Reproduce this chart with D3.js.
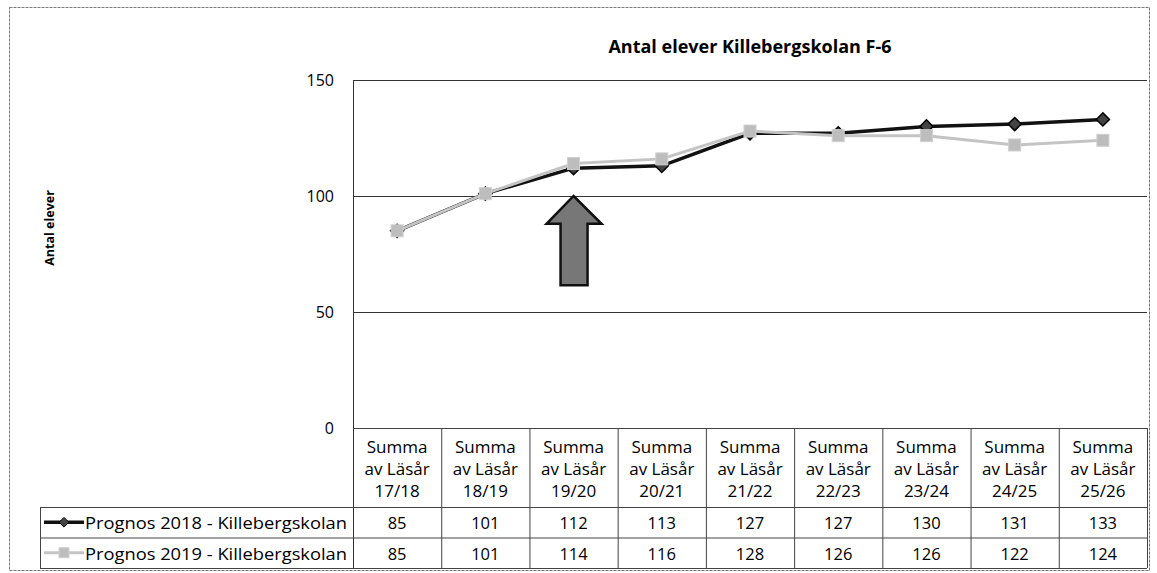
<!DOCTYPE html>
<html lang="sv">
<head>
<meta charset="UTF-8">
<title>Antal elever Killebergskolan F-6</title>
<script src="https://cdn.jsdelivr.net/npm/d3@7"></script>
<style>
  body { margin: 0; background: #fff; }
  svg { font-family: "Open Sans", Lato, sans-serif; }
</style>
</head>
<body>
<svg id="chart" width="1157" height="573"></svg>
<script>
  // data
  var years = ["17/18", "18/19", "19/20", "20/21", "21/22", "22/23", "23/24", "24/25", "25/26"];
  var prognos2018 = [85, 101, 112, 113, 127, 127, 130, 131, 133];
  var prognos2019 = [85, 101, 114, 116, 128, 126, 126, 122, 124];
  var seriesNames = ["Prognos 2018 - Killebergskolan", "Prognos 2019 - Killebergskolan"];
  var yTicks = [0, 50, 100, 150];

  var svg = d3.select("#chart");
  var plot = { left: 353, right: 1147, top: 80, bottom: 428 };
  var rowH = 30.5, headH = 79;

  var x = d3.scaleBand().domain(years).range([plot.left, plot.right]);
  var y = d3.scaleLinear().domain([0, 150]).range([plot.bottom, plot.top]);
  var cx = function(d) { return x(d) + x.bandwidth() / 2; };

  // outer frame
  svg.append("rect")
    .attr("x", 9.5).attr("y", 7.5).attr("width", 1140).attr("height", 563)
    .attr("fill", "none").attr("stroke", "#777").attr("stroke-width", 1)
    .attr("stroke-dasharray", "3,1");

  // title
  svg.append("text")
    .attr("x", (plot.left + plot.right) / 2).attr("y", 53)
    .attr("text-anchor", "middle").attr("font-size", 18).attr("font-weight", "bold")
    .text("Antal elever Killebergskolan F-6");

  // y axis title
  svg.append("text")
    .attr("transform", "translate(54,228) rotate(-90)")
    .attr("text-anchor", "middle").attr("font-size", 12.5).attr("font-weight", "bold")
    .text("Antal elever");

  // gridlines + tick labels
  svg.append("g").selectAll("line").data(yTicks.filter(function(d) { return d > 0; }))
    .join("line")
    .attr("x1", plot.left).attr("x2", plot.right)
    .attr("y1", function(d) { return y(d) + 0.5; }).attr("y2", function(d) { return y(d) + 0.5; })
    .attr("stroke", "#333").attr("stroke-width", 1);

  svg.append("g").selectAll("text").data(yTicks).join("text")
    .attr("x", 334).attr("y", function(d) { return y(d) + 6; })
    .attr("text-anchor", "end").attr("font-size", 16)
    .text(function(d) { return d; });

  // left axis line
  svg.append("line")
    .attr("x1", plot.left + 0.5).attr("x2", plot.left + 0.5)
    .attr("y1", plot.top).attr("y2", plot.bottom + headH + 2 * rowH)
    .attr("stroke", "#333");

  // data table
  var tbl = svg.append("g").attr("stroke", "#444").attr("stroke-width", 1);
  [plot.bottom, plot.bottom + headH, plot.bottom + headH + rowH, plot.bottom + headH + 2 * rowH].forEach(function(yy, i) {
    tbl.append("line")
      .attr("x1", i === 0 ? plot.left : 40).attr("x2", plot.right)
      .attr("y1", yy + 0.5).attr("y2", yy + 0.5);
  });
  years.forEach(function(d) {
    tbl.append("line")
      .attr("x1", x(d) + x.bandwidth() + 0.5).attr("x2", x(d) + x.bandwidth() + 0.5)
      .attr("y1", plot.bottom).attr("y2", plot.bottom + headH + 2 * rowH);
  });
  tbl.append("line")
    .attr("x1", 40.5).attr("x2", 40.5)
    .attr("y1", plot.bottom + headH).attr("y2", plot.bottom + headH + 2 * rowH);

  var head = svg.append("g").attr("font-size", 17).attr("text-anchor", "middle");
  years.forEach(function(d) {
    ["Summa", "av Läsår", d].forEach(function(s, i) {
      head.append("text")
        .attr("x", cx(d)).attr("y", plot.bottom + 25 + i * 22)
        .text(s);
    });
  });

  var allSeries = [prognos2018, prognos2019];
  allSeries.forEach(function(vals, r) {
    var yy = plot.bottom + headH + r * rowH + 22;
    svg.append("g").attr("font-size", 16.5).attr("text-anchor", "middle")
      .selectAll("text").data(vals).join("text")
      .attr("x", function(v, i) { return cx(years[i]); })
      .attr("y", yy)
      .text(function(v) { return v; });
    svg.append("text")
      .attr("x", 85).attr("y", yy).attr("font-size", 16)
      .attr("textLength", 262).attr("lengthAdjust", "spacingAndGlyphs")
      .text(seriesNames[r]);
  });

  // line generators
  var line = d3.line()
    .x(function(v, i) { return cx(years[i]); })
    .y(function(v) { return y(v); });

  var style2018 = { stroke: "#111", width: 3.5 };
  var style2019 = { stroke: "#c4c4c4", width: 3 };

  // 2018 series - black with diamonds
  svg.append("path").datum(prognos2018)
    .attr("d", line).attr("fill", "none")
    .attr("stroke", style2018.stroke).attr("stroke-width", style2018.width);
  svg.append("g").selectAll("path").data(prognos2018).join("path")
    .attr("d", d3.symbol(d3.symbolDiamond2, 110))
    .attr("transform", function(v, i) { return "translate(" + cx(years[i]) + "," + y(v) + ")"; })
    .attr("fill", "#444").attr("stroke", "#000").attr("stroke-width", 1.5);

  // 2019 series - light grey with squares
  svg.append("path").datum(prognos2019)
    .attr("d", line).attr("fill", "none")
    .attr("stroke", style2019.stroke).attr("stroke-width", style2019.width);
  svg.append("g").selectAll("rect").data(prognos2019).join("rect")
    .attr("x", function(v, i) { return cx(years[i]) - 6; })
    .attr("y", function(v) { return y(v) - 6; })
    .attr("width", 12).attr("height", 12)
    .attr("fill", "#bdbdbd").attr("stroke", "#d0d0d0");

  // legend keys in the table
  var k1 = plot.bottom + headH + rowH / 2, k2 = k1 + rowH;
  svg.append("line").attr("x1", 44).attr("x2", 84).attr("y1", k1).attr("y2", k1)
    .attr("stroke", style2018.stroke).attr("stroke-width", style2018.width);
  svg.append("path").attr("d", d3.symbol(d3.symbolDiamond2, 60))
    .attr("transform", "translate(64," + k1 + ")")
    .attr("fill", "#444").attr("stroke", "#000");
  svg.append("line").attr("x1", 44).attr("x2", 84).attr("y1", k2).attr("y2", k2)
    .attr("stroke", style2019.stroke).attr("stroke-width", style2019.width);
  svg.append("rect").attr("x", 59).attr("y", k2 - 5).attr("width", 10).attr("height", 10)
    .attr("fill", "#bdbdbd").attr("stroke", "#d0d0d0");

  // arrow pointing at 19/20
  var ax = cx("19/20"), tip = y(100), headBase = y(88), tail = y(61.5);
  var arrow = [
    [ax, tip], [ax + 28, headBase], [ax + 14, headBase], [ax + 14, tail],
    [ax - 13, tail], [ax - 13, headBase], [ax - 27, headBase]
  ];
  svg.append("path")
    .attr("d", "M" + arrow.join("L") + "Z")
    .attr("fill", "#777").attr("stroke", "#111").attr("stroke-width", 2.5)
    .attr("stroke-linejoin", "miter");
</script>
</body>
</html>
